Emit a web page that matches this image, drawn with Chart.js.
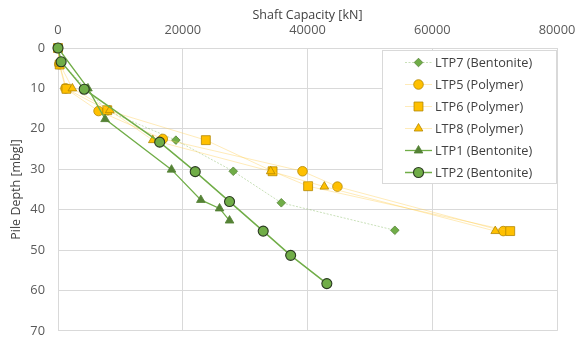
<!DOCTYPE html>
<html>
<head>
<meta charset="utf-8">
<script src="https://cdn.jsdelivr.net/npm/chart.js@4/dist/chart.umd.min.js"></script>
<style>
  html, body { margin: 0; padding: 0; background: #fff; }
  #wrap { width: 576px; height: 338px; position: relative; }
</style>
</head>
<body>
<div id="wrap"><canvas id="c" width="576" height="338"></canvas></div>
<script>
// ---- data (shaft capacity kN vs pile depth mbgl) ----
const seriesNames = ['LTP7 (Bentonite)', 'LTP5 (Polymer)', 'LTP6 (Polymer)', 'LTP8 (Polymer)', 'LTP1 (Bentonite)', 'LTP2 (Bentonite)'];

const depthLTP7 = [0, 3.5, 10, 15.6, 22.8, 30.5, 38.3, 45.1];
const capLTP7   = [0, 500, 4500, 8000, 18900, 28100, 35800, 54000];

const depthLTP5 = [0, 4, 10, 15.6, 22.5, 30.5, 34.3, 45.3];
const capLTP5   = [0, 200, 1200, 6500, 16800, 39200, 44800, 71400];

const depthLTP6 = [0, 4.1, 10.1, 15.4, 22.8, 30.5, 34.2, 45.3];
const capLTP6   = [0, 270, 1350, 7900, 23700, 34400, 40100, 72500];

const depthLTP8 = [0, 4, 10, 15.4, 22.8, 30.5, 34.3, 45.3];
const capLTP8   = [0, 300, 2300, 8300, 15200, 34100, 42700, 70100];

const depthLTP1 = [0, 10, 17.6, 30.1, 37.6, 39.7, 42.7];
const capLTP1   = [0, 4800, 7550, 18200, 22900, 25900, 27500];

const depthLTP2 = [0, 3.4, 10.2, 23.3, 30.6, 38.0, 45.3, 51.3, 58.3];
const capLTP2   = [0, 500, 4200, 16300, 22000, 27500, 32900, 37300, 43100];

const xTicks = [0, 20000, 40000, 60000, 80000];
const yTicks = [0, 10, 20, 30, 40, 50, 60, 70];

function pts(xs, ys) { return xs.map((x, i) => ({ x: x, y: ys[i] })); }

const FONT = "'Open Sans', 'Liberation Sans', sans-serif";
Chart.defaults.font.family = FONT;

const datasets = [
  { label: seriesNames[0], data: pts(capLTP7, depthLTP7), order: 5, clip: false,
    borderColor: 'rgba(112,173,71,0.38)', borderWidth: 1, borderDash: [2, 1.5],
    pointStyle: 'rectRot', pointRadius: 4.3, pointBackgroundColor: '#70ad47', pointBorderColor: '#548235', pointBorderWidth: 0.8 },
  { label: seriesNames[1], data: pts(capLTP5, depthLTP5), order: 4, clip: false,
    borderColor: 'rgba(255,205,80,0.4)', borderWidth: 1,
    pointStyle: 'circle', pointRadius: 4.8, pointBackgroundColor: '#ffc000', pointBorderColor: '#b38600', pointBorderWidth: 0.8 },
  { label: seriesNames[2], data: pts(capLTP6, depthLTP6), order: 3, clip: false,
    borderColor: 'rgba(255,205,80,0.4)', borderWidth: 1,
    pointStyle: 'rect', pointRadius: 6.3, pointBackgroundColor: '#ffc000', pointBorderColor: '#b38600', pointBorderWidth: 0.8 },
  { label: seriesNames[3], data: pts(capLTP8, depthLTP8), order: 2, clip: false,
    borderColor: 'rgba(255,205,80,0.4)', borderWidth: 1,
    pointStyle: 'triangle', pointRadius: 5, pointBackgroundColor: '#ffc000', pointBorderColor: '#b38600', pointBorderWidth: 0.8 },
  { label: seriesNames[4], data: pts(capLTP1, depthLTP1), order: 1, clip: false,
    borderColor: '#70ad47', borderWidth: 1.3,
    pointStyle: 'triangle', pointRadius: 5, pointBackgroundColor: '#548235', pointBorderColor: '#548235', pointBorderWidth: 0.8 },
  { label: seriesNames[5], data: pts(capLTP2, depthLTP2), order: 0, clip: false,
    borderColor: '#70ad47', borderWidth: 1.5,
    pointStyle: 'circle', pointRadius: 5, pointBackgroundColor: '#70ad47', pointBorderColor: '#2b3a22', pointBorderWidth: 1.1 }
];

const legendPlugin = {
  id: 'boxLegend',
  afterDraw(chart) {
    const ctx = chart.ctx;
    const bx = 382, by = 50, bw = 174, bh = 133;
    ctx.save();
    ctx.fillStyle = '#ffffff';
    ctx.fillRect(bx, by, bw, bh);
    ctx.strokeStyle = '#d9d9d9';
    ctx.lineWidth = 1;
    ctx.strokeRect(bx + 0.5, by + 0.5, bw, bh);
    const rowY = [62.5, 84.5, 106.5, 128.5, 150.5, 172.5];
    chart.data.datasets.forEach((ds, i) => {
      const y = rowY[i];
      ctx.save();
      ctx.strokeStyle = ds.borderColor;
      ctx.lineWidth = ds.borderWidth;
      ctx.setLineDash(ds.borderDash || []);
      ctx.beginPath();
      ctx.moveTo(405, y);
      ctx.lineTo(432, y);
      ctx.stroke();
      ctx.restore();
      ctx.save();
      ctx.fillStyle = ds.pointBackgroundColor;
      ctx.strokeStyle = ds.pointBorderColor;
      ctx.lineWidth = ds.pointBorderWidth;
      Chart.helpers.drawPoint(ctx, { pointStyle: ds.pointStyle, radius: ds.pointRadius, rotation: 0, borderWidth: ds.pointBorderWidth }, 418.5, y);
      ctx.restore();
      ctx.fillStyle = '#404040';
      ctx.font = "12.7px " + FONT;
      ctx.textBaseline = 'middle';
      ctx.textAlign = 'left';
      ctx.fillText(ds.label, 435, y + 0.5);
    });
    ctx.restore();
  }
};

new Chart(document.getElementById('c'), {
  type: 'line',
  data: { datasets: datasets },
  plugins: [legendPlugin],
  options: {
    responsive: false,
    animation: false,
    layout: { padding: { left: 0, right: 19, top: 0, bottom: 5 } },
    plugins: { legend: { display: false }, tooltip: { enabled: false } },
    elements: { line: { tension: 0, fill: false } },
    scales: {
      x: {
        type: 'linear', position: 'top', min: 0, max: 80000,
        afterBuildTicks(s) { s.ticks = xTicks.map(v => ({ value: v })); },
        afterFit(s) { s.height = 48; s.paddingLeft = 0; s.paddingRight = 0; s.paddingTop = 0; s.paddingBottom = 0; },
        grid: { color: '#d9d9d9', lineWidth: 1, drawTicks: false },
        border: { color: '#d9d9d9' },
        ticks: { color: '#595959', font: { size: 12.8 }, padding: 10, maxRotation: 0, callback: v => String(v) },
        title: { display: true, text: 'Shaft Capacity [kN]', color: '#404040', font: { size: 12.5 }, padding: { top: 8, bottom: 0 } }
      },
      y: {
        type: 'linear', reverse: true, min: 0, max: 70,
        afterBuildTicks(s) { s.ticks = yTicks.map(v => ({ value: v })); },
        afterFit(s) { s.width = 58; s.paddingLeft = 0; s.paddingRight = 0; s.paddingTop = 0; s.paddingBottom = 0; },
        grid: { color: '#d9d9d9', lineWidth: 1, drawTicks: false },
        border: { color: '#d9d9d9' },
        ticks: { color: '#595959', font: { size: 12.8 }, padding: 13 },
        title: { display: true, text: 'Pile Depth [mbgl]', color: '#404040', font: { size: 12.5 }, padding: { top: 9, bottom: 0 } }
      }
    }
  }
});
</script>
</body>
</html>
